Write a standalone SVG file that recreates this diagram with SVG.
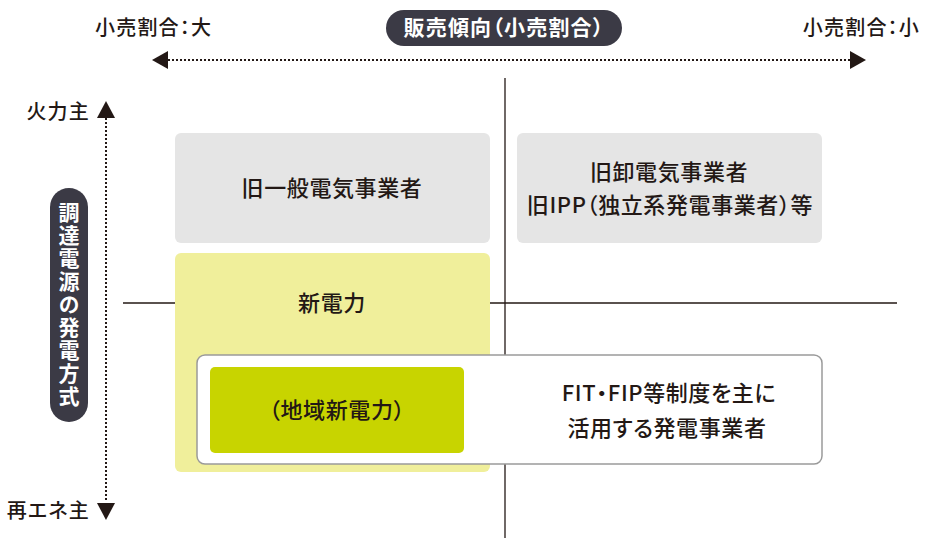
<svg xmlns="http://www.w3.org/2000/svg" width="925" height="538" viewBox="0 0 925 538">
<style>
text{font-family:"Noto Sans CJK JP","Noto Sans",sans-serif;fill:#231815;font-weight:500;font-feature-settings:"palt"}
.lbl{font-size:22px;text-anchor:middle;letter-spacing:0.6px}
.ax{font-size:20px;letter-spacing:1.2px}
.pill{font-size:21px;font-weight:700;fill:#fff;text-anchor:middle}
.ln{stroke:#231815;stroke-width:1.3;fill:none}
.dot{stroke:#231815;stroke-width:2;stroke-dasharray:2 2;fill:none}
.tri{fill:#231815}
</style>
<rect width="925" height="538" fill="#fff"/>
<g id="axes">
<line class="ln" x1="505" y1="78" x2="505" y2="538"/>
<line class="ln" x1="123" y1="303" x2="897" y2="303"/>
</g>
<g id="old-general">
<rect x="175" y="133" width="315" height="110" rx="6" fill="#e5e5e5"/>
<text class="lbl" x="332" y="196">旧一般電気事業者</text>
</g>
<g id="old-wholesale">
<rect x="517" y="133" width="305" height="110" rx="6" fill="#e5e5e5"/>
<text class="lbl" x="669" y="180">旧卸電気事業者</text>
<text class="lbl" x="670" y="213">旧IPP（独立系発電事業者）等</text>
</g>
<g id="new-power">
<rect x="175" y="253" width="315" height="219" rx="6" fill="#f0ef9b"/>
<text class="lbl" x="332" y="311">新電力</text>
</g>
<g id="fit-fip">
<rect x="197" y="355" width="625" height="109" rx="8" fill="#fff" stroke="#9a9a9a" stroke-width="1.5"/>
<text class="lbl" x="669" y="401">FIT・FIP等制度を主に</text>
<text class="lbl" x="667" y="436">活用する発電事業者</text>
</g>
<g id="regional-new-power">
<rect x="210" y="367" width="254" height="86" rx="5" fill="#c8d400"/>
<text class="lbl" x="337" y="418">（地域新電力）</text>
</g>
<g id="connectors">
<line class="dot" x1="168" y1="60" x2="850" y2="60"/>
<polygon class="tri" points="152,60 168,51 168,69"/>
<polygon class="tri" points="866,60 850,51 850,69"/>
<line class="dot" x1="106" y1="118" x2="106" y2="502"/>
<polygon class="tri" points="106,101 97,118 115,118"/>
<polygon class="tri" points="106,520 97,503 115,503"/>
</g>
<g id="horizontal-title">
<rect x="386" y="10" width="236" height="36" rx="18" fill="#3b3a45"/>
<text class="pill" x="504" y="35" style="letter-spacing:1.2px">販売傾向（小売割合）</text>
</g>
<g id="vertical-title">
<rect x="50" y="188" width="38" height="234" rx="19" fill="#3b3a45"/>
<text class="pill" x="69" y="305" style="writing-mode:vertical-rl;letter-spacing:2px">調達電源の発電方式</text>
</g>
<g id="axis-labels">
<text class="ax" x="95" y="35">小売割合：大</text>
<text class="ax" x="920" y="35" text-anchor="end">小売割合：小</text>
<text class="ax" x="90" y="119" text-anchor="end">火力主</text>
<text class="ax" x="90" y="518" text-anchor="end">再エネ主</text>
</g>
</svg>
